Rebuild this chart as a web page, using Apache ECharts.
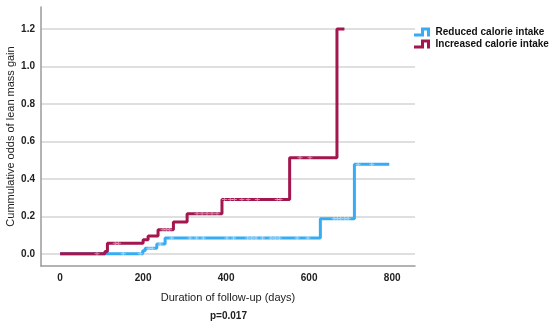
<!DOCTYPE html>
<html><head><meta charset="utf-8">
<script src="https://cdn.jsdelivr.net/npm/echarts@6/dist/echarts.min.js"></script>
<style>html,body{margin:0;padding:0;background:#fff}#c{width:550px;height:326px}</style>
</head><body><div id="c"></div>
<script>
// Data
const seriesNames = ['Reduced calorie intake', 'Increased calorie intake'];
const blueTimes  = [0, 199, 205, 233, 253, 627, 709, 793];
const blueValues = [0, 0.016, 0.03, 0.052, 0.084, 0.187, 0.478, 0.478];
const redTimes   = [0, 108, 114, 200, 212, 236, 273, 306, 390, 553, 667, 685];
const redValues  = [0, 0.012, 0.057, 0.075, 0.095, 0.128, 0.170, 0.214, 0.290, 0.513, 1.2, 1.2];
const blueCensorTimes = [152, 193, 214, 222, 241, 269, 313, 329, 345, 402, 418, 452, 462, 472, 488, 508, 518, 528, 571, 597, 660, 668, 676, 686, 694, 718, 751];
const redCensorTimes  = [89, 133, 141, 248, 256, 264, 330, 342, 354, 366, 378, 396, 410, 420, 438, 453, 475, 523, 530, 578, 602];
const xTickValues = [0, 200, 400, 600, 800];
const yTickValues = [0, 0.2, 0.4, 0.6, 0.8, 1.0, 1.2];

const blueColor = '#35acf4';
const redColor = '#a3164e';

function pairs(t, v) { return t.map((x, i) => [x, v[i]]); }
function stepAt(t, v, x) { let y = v[0]; for (let i = 0; i < t.length; i++) { if (t[i] <= x) y = v[i]; } return y; }
function censorPts(ct, t, v) { return ct.map(x => [x, stepAt(t, v, x)]); }

const plus = 'path://M2,0h1v5h-1zM0,2h5v1h-5z';
const stepIcon = 'path://M0,6L7,6L7,0L16,0L16,9L13,9L13,3L10,3L10,9L0,9Z';
const font = 'Liberation Sans, Arial, sans-serif';

const chart = echarts.init(document.getElementById('c'), null, { renderer: 'canvas' });
chart.setOption({
  animation: false,
  grid: { left: 41, right: 135, top: 7, bottom: 60, containLabel: false, outerBoundsMode: 'none' },
  legend: {
    data: seriesNames.map(n => ({ name: n, icon: stepIcon })),
    orient: 'vertical', left: 414, top: 27, padding: 0, itemGap: 2, itemWidth: 17, itemHeight: 9,
    textStyle: { fontSize: 10, fontWeight: 'bold', color: '#111', fontFamily: font }
  },
  xAxis: {
    type: 'value', min: -46, max: 855,
    name: 'Duration of follow-up (days)', nameLocation: 'middle', nameGap: 26, nameMoveOverlap: false,
    nameTextStyle: { fontSize: 11, color: '#222', fontFamily: font },
    axisLine: { onZero: false, lineStyle: { color: '#9a9a9a', width: 1.5 } },
    axisTick: { show: false, customValues: xTickValues },
    axisLabel: { customValues: xTickValues, fontSize: 10, fontWeight: 'bold', color: '#222', fontFamily: font, margin: 7 },
    splitLine: { show: false }
  },
  yAxis: {
    type: 'value', min: -0.065, max: 1.317,
    name: 'Cummulative odds of lean mass gain', nameLocation: 'middle', nameGap: 25, nameMoveOverlap: false,
    nameTextStyle: { fontSize: 11, color: '#222', fontFamily: font },
    axisLine: { show: true, onZero: false, lineStyle: { color: '#9a9a9a', width: 1.5 } },
    axisTick: { show: false, customValues: yTickValues },
    axisLabel: { customValues: yTickValues, formatter: v => v.toFixed(1), fontSize: 10, fontWeight: 'bold', color: '#222', fontFamily: font, margin: 6 },
    splitLine: { show: true, lineStyle: { color: '#d4d4d4', width: 1.5 } }
  },
  series: [
    { name: seriesNames[0], type: 'line', step: 'end', data: pairs(blueTimes, blueValues), showSymbol: false,
      lineStyle: { color: blueColor, width: 3 }, itemStyle: { color: blueColor }, z: 2 },
    { name: seriesNames[1], type: 'line', step: 'end', data: pairs(redTimes, redValues), showSymbol: false,
      lineStyle: { color: redColor, width: 3 }, itemStyle: { color: redColor }, z: 3 },
    { name: 'bc', type: 'scatter', data: censorPts(blueCensorTimes, blueTimes, blueValues), symbol: plus, symbolSize: 5,
      itemStyle: { color: 'rgba(255,255,255,0.65)' }, z: 4, silent: true },
    { name: 'rc', type: 'scatter', data: censorPts(redCensorTimes, redTimes, redValues), symbol: plus, symbolSize: 5,
      itemStyle: { color: 'rgba(255,255,255,0.6)' }, z: 5, silent: true }
  ],
  graphic: [
    { type: 'text', left: 228 - 18, top: 311, style: { text: 'p=0.017', font: 'bold 10px ' + font, fill: '#222' } }
  ]
});
</script></body></html>
